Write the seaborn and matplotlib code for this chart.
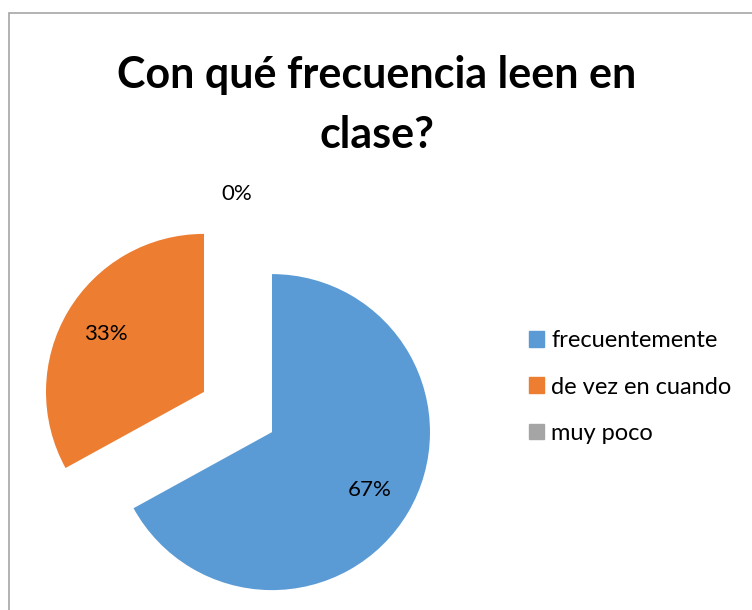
import numpy as np
import matplotlib
matplotlib.use("Agg")
import matplotlib.pyplot as plt
import seaborn as sns
from matplotlib.patches import Rectangle

# data
categories = ["frecuentemente", "de vez en cuando", "muy poco"]
values = [67, 33, 0]
colors = ["#5B9BD5", "#ED7D31", "#A5A5A5"]
title = "Con qué frecuencia leen en\nclase?"

sns.set_theme(style="white")
plt.rcParams["font.family"] = ["Lato", "DejaVu Sans"]
plt.rcParams["text.color"] = "#000000"

W, H = 752, 610
fig = plt.figure(figsize=(W / 100, H / 100), dpi=100)

# pie axes: center of the pie at pixel (238, 412 from top), radius 158 px
lim = 1.5
size = 2 * lim * 158
cx, cy = 238, H - 412
ax = fig.add_axes([(cx - size / 2) / W, (cy - size / 2) / H, size / W, size / H])

wedges, texts, autotexts = ax.pie(
    values,
    colors=colors,
    startangle=90,
    counterclock=False,
    explode=[0.25] * len(values),
    autopct="%1.0f%%",
    pctdistance=0.72,
    textprops={"fontsize": 16, "color": "#000000"},
    wedgeprops={"linewidth": 0},
)
ax.set_xlim(-lim, lim)
ax.set_ylim(-lim, lim)
ax.set_aspect("equal")

# the empty slice gets its label outside the pie
for w, t, v in zip(wedges, autotexts, values):
    if v == 0:
        ang = np.deg2rad(w.theta1)
        t.set_position((1.39 * np.cos(ang) - 0.01, 1.38 * np.sin(ang)))

fig.text(377 / W, (H - 105) / H, title, ha="center", va="center",
         fontsize=31, fontweight="bold", linespacing=1.6, color="#000000")

handles = [plt.Rectangle((0, 0), 1, 1, color=c) for c in colors]
leg = fig.legend(handles, categories, loc="center left",
                 bbox_to_anchor=(529 / W, (H - 387) / H), frameon=False,
                 fontsize=17, handlelength=0.64, handleheight=0.64,
                 handletextpad=0.3, labelspacing=1.07, borderpad=0,
                 borderaxespad=0)
for txt in leg.get_texts():
    txt.set_color("#000000")

# chart frame (only left and top edges visible in the crop)
fig.patches.append(Rectangle((9 / W, -0.1), 1.2, (H - 13) / H + 0.1,
                             transform=fig.transFigure, fill=False,
                             edgecolor="#A6A6A6", linewidth=1.2))

fig.savefig("out.png", dpi=100)
